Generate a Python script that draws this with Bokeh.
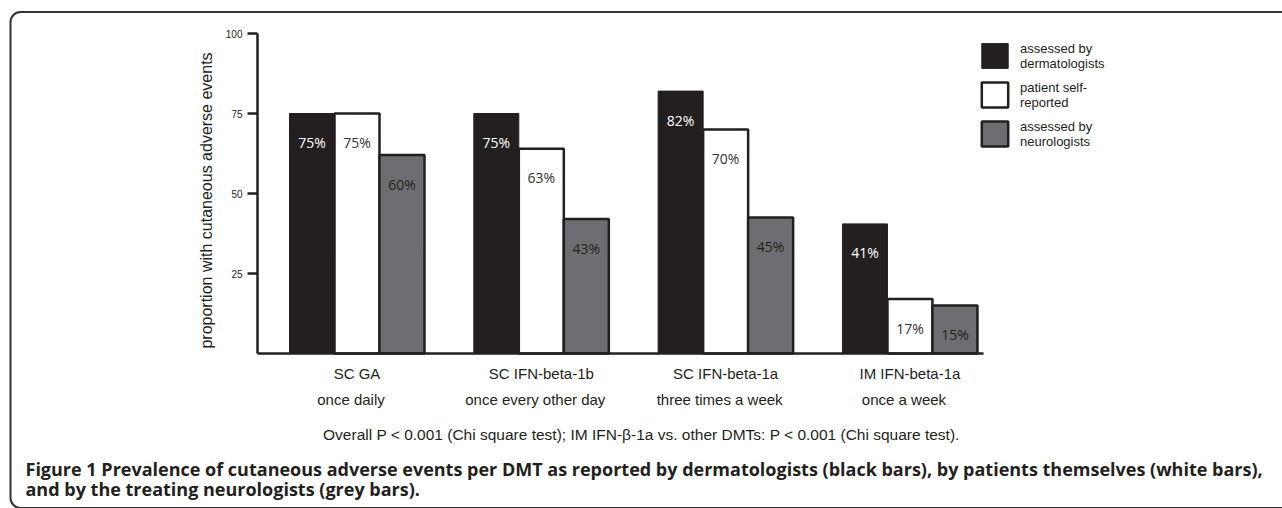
import math
from bokeh.plotting import figure
from bokeh.models import (Range1d, LinearAxis, FixedTicker, Label, Legend,
                          LegendItem, BoxAnnotation)
from bokeh.core.properties import value
from bokeh.embed import file_html
from bokeh.resources import INLINE

# ---------------- data ----------------
drugs = ["SC GA", "SC IFN-beta-1b", "SC IFN-beta-1a", "IM IFN-beta-1a"]
schedules = ["once daily", "once every other day", "three times a week", "once a week"]
series_names = ["assessed by\ndermatologists", "patient self-\nreported", "assessed by\nneurologists"]
dermatologists = [75, 75, 82, 40.5]
patients = [75, 64, 70, 17]
neurologists = [62, 42, 42.5, 15]
derm_labels = ["75%", "75%", "82%", "41%"]
patient_labels = ["75%", "63%", "70%", "17%"]
neuro_labels = ["60%", "43%", "45%", "15%"]
y_ticks = [25, 50, 75, 100]
y_title = "proportion with cutaneous adverse events"
stat_note = ("Overall P < 0.001 (Chi square test); IM IFN-\u03b2-1a vs. other DMTs: "
             "P < 0.001 (Chi square test).")
caption_1 = ("Figure 1 Prevalence of cutaneous adverse events per DMT as reported by "
             "dermatologists (black bars), by patients themselves (white bars),")
caption_2 = "and by the treating neurologists (grey bars)."

# ---------------- layout / style ----------------
W, H = 1282, 508
AXIS_X_PX, AXIS_Y_PX = 257, 353     # where the axes cross on the canvas
AXIS_W_PX = 726                     # length of the x axis
PX_PER_BAR = 45.0
PX_PER_PCT = 3.2
GROUP_STEP = 4.096       # in bar widths
LEFT_PAD = 0.711         # in bar widths
INK = "#231f20"
GREY = "#6d6e71"
SANS = "Liberation Sans"

x_start = -LEFT_PAD - AXIS_X_PX / PX_PER_BAR
x_end = x_start + W / PX_PER_BAR
y_start = -(H - AXIS_Y_PX) / PX_PER_PCT
y_end = AXIS_Y_PX / PX_PER_PCT

p = figure(width=W, height=H, output_backend="svg", toolbar_location=None,
           x_range=Range1d(x_start, x_end), y_range=Range1d(y_start, y_end),
           x_axis_type=None, y_axis_type=None,
           min_border_left=0, min_border_top=0, min_border_right=0, min_border_bottom=0,
           min_border=0)
p.outline_line_color = None
p.background_fill_color = "white"
p.border_fill_color = "white"

yaxis = LinearAxis(ticker=FixedTicker(ticks=y_ticks), fixed_location=-LEFT_PAD,
                   bounds=(0, 100))
yaxis.axis_line_width = 2.5
yaxis.axis_line_color = INK
yaxis.major_tick_line_width = 2.5
yaxis.major_tick_line_color = INK
yaxis.major_tick_out = 10
yaxis.major_tick_in = 0
yaxis.minor_tick_out = 0
yaxis.minor_tick_in = 0
yaxis.major_label_text_font = SANS
yaxis.major_label_text_font_size = "10px"
yaxis.major_label_text_color = INK
yaxis.major_label_standoff = 5
p.add_layout(yaxis, "left")

# y-axis title, vertical, centred where the reference puts it
p.add_layout(Label(x=206, y=H - 200, x_units="screen", y_units="screen",
                   text=y_title, angle=math.pi / 2, text_align="center",
                   text_baseline="middle", text_font=SANS, text_font_size="16px",
                   text_color=INK))

xaxis = LinearAxis(ticker=FixedTicker(ticks=[]), fixed_location=0,
                   bounds=(-LEFT_PAD, -LEFT_PAD + AXIS_W_PX / PX_PER_BAR))
xaxis.axis_line_width = 2.5
xaxis.axis_line_color = INK
xaxis.major_tick_out = 0
xaxis.major_tick_in = 0
xaxis.minor_tick_out = 0
xaxis.minor_tick_in = 0
xaxis.major_label_text_font_size = "0px"
p.add_layout(xaxis, "below")

series = [
    (dermatologists, derm_labels, INK, INK, 1, "white"),
    (patients, patient_labels, "white", INK, 2.5, "#333333"),
    (neurologists, neuro_labels, GREY, INK, 2.5, INK),
]

renderers = []
for j, (vals, labs, fill, line, lw, tcol) in enumerate(series):
    xs = [i * GROUP_STEP + j + 0.5 for i in range(len(vals))]
    r = p.vbar(x=xs, top=vals, bottom=0, width=1.0, fill_color=fill,
               line_color=line, line_width=lw)
    renderers.append(r)
    p.text(x=xs, y=vals, text=labs, text_align="center", text_baseline="middle",
           y_offset=29, text_color=tcol, text_font=value("Open Sans"),
           text_font_size="14px")

legend = Legend(items=[LegendItem(label=series_names[k], renderers=[renderers[k]])
                       for k in range(3)],
                location=(978, H - 149), orientation="vertical",
                glyph_width=33, glyph_height=31, spacing=8, padding=0, margin=0,
                label_standoff=9, label_text_font=SANS, label_text_font_size="13px",
                label_text_color=INK, label_text_line_height=1.15,
                border_line_alpha=0, background_fill_alpha=0)
p.add_layout(legend, "center")

# category labels beneath groups
for i in range(len(drugs)):
    cx = i * GROUP_STEP + 1.5
    p.add_layout(Label(x=cx, y=H - 373, x_units="data", y_units="screen", text=drugs[i],
                       text_align="center", text_baseline="middle", text_font=SANS,
                       text_font_size="15px", text_color=INK))
    p.add_layout(Label(x=cx, y=H - 399, x_units="data", y_units="screen", x_offset=-6,
                       text=schedules[i], text_align="center", text_baseline="middle",
                       text_font=SANS, text_font_size="15px", text_color=INK))

# statistics note and figure caption
p.add_layout(Label(x=641, y=H - 434, x_units="screen", y_units="screen",
                   text=stat_note, text_align="center", text_baseline="middle",
                   text_font=SANS, text_font_size="15.5px", text_color=INK))
p.add_layout(Label(x=25, y=H - 468, x_units="screen", y_units="screen",
                   text=caption_1, text_align="left", text_baseline="alphabetic",
                   text_font="Open Sans", text_font_size="18px", text_font_style="bold",
                   text_color=INK))
p.add_layout(Label(x=25, y=H - 488, x_units="screen", y_units="screen",
                   text=caption_2, text_align="left", text_baseline="alphabetic",
                   text_font="Open Sans", text_font_size="18px", text_font_style="bold",
                   text_color=INK))

# rounded frame around the whole figure
p.add_layout(BoxAnnotation(left=10, right=W + 40, top=H - 11.5, bottom=H - 507.5,
                           left_units="screen", right_units="screen",
                           top_units="screen", bottom_units="screen",
                           fill_alpha=0, line_color="#333333", line_alpha=1,
                           line_width=2, border_radius=10, level="overlay"))

open("out.html", "w").write(file_html(p, INLINE))
